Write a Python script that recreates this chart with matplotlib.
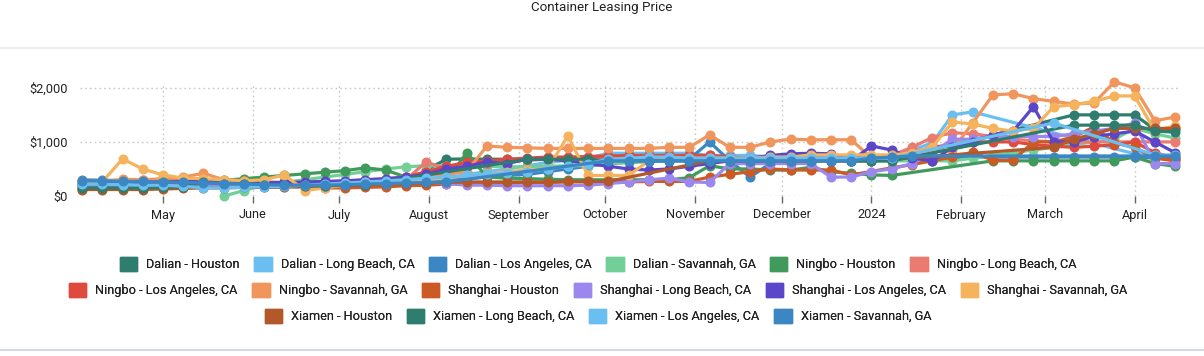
import matplotlib
matplotlib.use("Agg")
import matplotlib.pyplot as plt
from matplotlib.patches import Patch
from matplotlib.lines import Line2D
import numpy as np
import pandas as pd

plt.rcParams["font.family"] = ["Roboto", "DejaVu Sans"]

N = None

# weekly observations, 2023-04-03 .. 2024-04-15
dates = pd.date_range("2023-04-03", periods=55, freq="7D")

series_names = [
    "Dalian - Houston", "Dalian - Long Beach, CA", "Dalian - Los Angeles, CA",
    "Dalian - Savannah, GA", "Ningbo - Houston", "Ningbo - Long Beach, CA",
    "Ningbo - Los Angeles, CA", "Ningbo - Savannah, GA", "Shanghai - Houston",
    "Shanghai - Long Beach, CA", "Shanghai - Los Angeles, CA", "Shanghai - Savannah, GA",
    "Xiamen - Houston", "Xiamen - Long Beach, CA", "Xiamen - Los Angeles, CA",
    "Xiamen - Savannah, GA",
]

series_colors = [
    "#2f7d6f", "#6bbff0", "#3b87c4", "#72cf98", "#3f9a5b", "#e97b70",
    "#df4a3e", "#f0965c", "#cc5a24", "#9b88ef", "#5b46c9", "#f4b35c",
    "#b3582a", "#2f7d6f", "#6bbff0", "#3b87c4",
]

dalian_houston = [
    160, 160, 160, 160, 170, 180, 260, 240, 240, 220, 210,
    200, 200, 210, 220, 230, 200, 480, 680, 685, 680, 680,
    680, 680, 680, 680, 670, 670, 670, 670, 670, 670, 670,
    670, 670, 665, 665, 665, 665, 665, 665, N, N, N,
    N, N, N, N, N, 1500, 1500, 1500, 1500, 1230, 1230]
dalian_long_beach = [
    200, 200, 200, 200, 190, 170, 170, 170, 170, 160, 160,
    170, 180, 200, 220, 240, 260, 290, 320, 400, 450, 500,
    560, 620, 660, 700, 790, 790, 790, 790, 790, 750, 750,
    750, 720, 720, 720, 720, 720, 720, 720, 850, 980, 1500,
    1555, N, N, N, N, N, N, N, 780, 780, 700]
dalian_los_angeles = [
    300, 290, 290, 280, 280, 270, 250, 250, 240, 230, 220,
    210, 210, 220, 230, 240, 250, 260, 300, 320, 350, 380,
    400, 450, 500, 550, 600, 620, 640, 650, 680, 1000, 650,
    350, 600, 650, 650, 650, 650, 650, 650, N, N, N,
    720, 720, 720, 720, 720, 720, 720, 720, 720, 700, 690]
dalian_savannah = [
    N, N, N, N, N, N, N, 0, 100, 200, 250,
    300, 350, 400, 450, 500, 540, 560, 560, 550, 550, 540,
    540, 550, 560, 560, 600, 620, 640, 650, 650, 650, 650,
    650, 650, 650, 650, 650, 650, 650, 650, 650, 650, 650,
    700, 750, 800, 850, 900, 950, 1000, 1050, 1250, 1150, 1070]
ningbo_houston = [
    N, N, N, N, N, 230, 260, 290, 320, 350, 380,
    410, 440, 470, 520, 480, 350, 300, 280, 800, 350, 330,
    320, 310, 300, 300, 300, 300, 300, 300, 340, 560, 500,
    500, 480, 480, 530, 450, 420, 390, 380, N, N, N,
    N, 650, 650, 650, 650, 650, 650, 650, 720, 600, 550]
ningbo_long_beach = [
    280, 280, 280, 290, 290, 300, 310, 280, 260, 250, 240,
    230, 230, 240, 250, 270, 300, 630, 500, 550, 600, 650,
    660, 680, 700, 700, 700, 720, 720, 720, 720, 720, 700,
    700, 700, 700, 700, 700, 700, 700, 750, 900, 1080, 1170,
    1150, 1100, 1050, 1020, 1000, 1000, 1000, 1000, 1000, 1000, 1000]
ningbo_los_angeles = [
    250, 250, 240, 230, 230, 220, 200, 200, 200, 190, 180,
    180, 200, 220, 250, 300, 350, 450, 550, 620, 650, 680,
    700, 720, 720, 730, 740, 750, 750, 750, 750, 750, 720,
    700, 700, 700, 700, 700, 700, 700, 750, 800, 900, 950,
    1000, 1000, 1000, 950, 920, 900, 920, 950, 1000, 800, 700]
ningbo_savannah = [
    250, 260, 310, 300, 320, 350, 420, 300, 280, 260, 250,
    250, 260, 280, 300, 320, 350, 380, 400, 450, 925, 900,
    890, 880, 880, 880, 880, 880, 880, 900, 900, 1130, 900,
    900, 1000, 1050, 1040, 1040, 1040, 700, N, N, N, 850,
    1350, 1870, 1890, 1800, 1750, 1700, 1720, 2110, 2000, 1390, 1460]
shanghai_houston = [
    130, 130, 130, 140, 150, 160, 170, 180, 190, 200, 180,
    160, 150, 150, 160, 170, 190, 200, 220, 240, 240, 240,
    250, 250, 260, 260, 260, 260, 270, 270, 270, 350, 400,
    450, 500, 480, 480, 480, 390, N, 520, 580, 650, 720,
    810, 660, 660, 1000, 1000, 1090, 1280, 980, 900, 700, 650]
shanghai_long_beach = [
    200, 200, 200, 190, 190, 180, 200, 200, 200, 190, 190,
    200, 210, 220, 230, 240, 250, 260, 230, 200, 200, 190,
    190, 190, 190, 200, 230, 260, 300, 330, 260, 250, 600,
    600, 600, 600, 600, 350, 350, 450, 500, 600, 800, 1050,
    1050, 1100, 1100, 1100, 1100, 1150, 1200, 1250, 1350, 600, 600]
shanghai_los_angeles = [
    230, 230, 240, 250, 260, 270, 280, 270, 260, 250, 250,
    260, 270, 280, 300, 320, 350, 400, 500, 550, 630, 600,
    680, 680, 650, 600, 550, 500, 480, 500, 550, 600, 650,
    700, 750, 780, 790, 780, 650, 925, 850, 700, 650, 900,
    1000, 1130, 1200, 1650, 1000, 1000, 1100, 1150, 1200, 1000, 800]
shanghai_savannah = [
    250, 260, 685, 500, 390, 330, 320, 300, 280, 300, 390,
    100, 150, 200, 250, 250, 280, 300, 330, 380, 400, 450,
    480, 500, 1110, 380, 380, 380, 650, 680, 700, 700, 700,
    700, 720, 720, 760, 760, 760, 760, 760, 800, 900, 1370,
    1330, 1250, 1200, 1250, 1650, 1690, 1750, 1850, 1850, 1200, 1300]
xiamen_houston = [
    120, 120, 120, 120, 130, 140, 150, 150, 160, 160, 170,
    180, 190, 200, 210, 220, 230, 240, 250, 260, 260, 260,
    260, 260, 270, 270, 270, N, N, N, N, 650, 650,
    650, 650, 650, 650, 650, 650, 650, N, N, N, N,
    N, N, N, N, 900, 1050, 1150, 1250, 1250, 1250, 1250]
xiamen_long_beach = [
    150, 150, 150, 150, 160, 170, 250, 230, 230, 210, 200,
    190, 190, 200, 210, N, N, N, N, N, N, N,
    680, 680, 680, 680, 650, 650, 650, 650, 650, 650, 650,
    650, 650, 650, 650, 650, 650, 650, 650, N, N, N,
    N, N, N, N, N, 1310, 1310, 1310, 1310, 1200, 1180]
xiamen_los_angeles = [
    220, 220, 210, 200, 200, 180, 150, 150, 160, 170, 180,
    200, 220, 240, 260, 280, 300, 330, 350, 380, 400, 420,
    450, 500, 550, 600, 680, 700, 720, 720, 700, 700, 700,
    700, 700, 700, 700, 700, 700, 700, 700, N, N, N,
    N, N, N, N, 1350, N, N, N, N, 760, 760]
xiamen_savannah = [
    280, 280, 270, 270, 260, 250, 240, 230, 220, 210, 200,
    200, 200, 210, 220, 230, 240, 250, 260, N, N, N,
    N, N, N, N, 650, 650, 650, 650, 650, 650, 650,
    650, 650, 650, 650, 650, 650, 700, 720, 740, N, N,
    N, N, N, N, N, N, N, N, 740, 740, 740]

series_values = [
    dalian_houston, dalian_long_beach, dalian_los_angeles, dalian_savannah,
    ningbo_houston, ningbo_long_beach, ningbo_los_angeles, ningbo_savannah,
    shanghai_houston, shanghai_long_beach, shanghai_los_angeles, shanghai_savannah,
    xiamen_houston, xiamen_long_beach, xiamen_los_angeles, xiamen_savannah,
]

month_ticks = pd.to_datetime([
    "2023-05-01", "2023-06-01", "2023-07-01", "2023-08-01", "2023-09-01",
    "2023-10-01", "2023-11-01", "2023-12-01", "2024-01-01", "2024-02-01",
    "2024-03-01", "2024-04-01"])
month_labels = ["May", "June", "July", "August", "September", "October",
                "November", "December", "2024", "February", "March", "April"]
y_ticks = [0, 1000, 2000]
y_labels = ["$0", "$1,000", "$2,000"]

W, H = 1204, 356
fig = plt.figure(figsize=(W / 100, H / 100), dpi=100)
fig.patch.set_facecolor("white")

# plot area: x 80..1178 px, y 77..196 px ($0 at 196, $2,000 at 88)
ax = fig.add_axes([80 / W, 1 - 196 / H, 1098 / W, 119 / H])
ax.set_facecolor("none")

for vals, color in zip(series_values, series_colors):
    v = np.array([np.nan if x is None else x for x in vals], dtype=float)
    m = ~np.isnan(v)
    ax.plot(dates[m], v[m], color=color, lw=2.3, marker="o", ms=6.2,
            solid_capstyle="round", solid_joinstyle="round", clip_on=False, zorder=3)

x0 = pd.Timestamp("2023-04-03") - pd.Timedelta(days=0.7)
x1 = pd.Timestamp("2024-04-15") + pd.Timedelta(days=1)
ax.set_xlim(x0, x1)
ax.set_ylim(0, 2200)

# dotted grid
for yv in y_ticks:
    ax.axhline(yv, color="#c8c8c8", lw=1, ls=(0, (1.2, 2.2)), zorder=1)
ax.vlines(month_ticks, 0, 2050, color="#c8c8c8", lw=1, ls=(0, (1.2, 2.2)), zorder=1)

ax.set_xticks(month_ticks)
ax.set_xticklabels(month_labels, fontsize=9.2, color="#222222")
ax.set_yticks(y_ticks)
ax.set_yticklabels(y_labels, fontsize=9.2, color="#222222")
ax.tick_params(axis="x", length=5, width=1, color="#666666", pad=4)
ax.tick_params(axis="y", length=0, pad=9)
for s in ax.spines.values():
    s.set_visible(False)

fig.text(602 / W, 1 - 7 / H, "Container Leasing Price", ha="center", va="center",
         fontsize=9.6, color="#222222")

# separators
fig.add_artist(Line2D([0, 1], [1 - 48 / H, 1 - 48 / H], color="#eeeeee", lw=1.5,
                      transform=fig.transFigure))
fig.add_artist(Line2D([0, 1], [1 - 349.5 / H, 1 - 349.5 / H], color="#d3dbde", lw=1.5,
                      transform=fig.transFigure))

# legend: three centred rows
rows = [range(0, 6), range(6, 12), range(12, 16)]
row_y = [264, 290, 316]
for idx, yy in zip(rows, row_y):
    handles = [Patch(facecolor=series_colors[i], edgecolor=series_colors[i],
                     label=series_names[i]) for i in idx]
    leg = fig.legend(handles=handles, loc="center", bbox_to_anchor=(598 / W, 1 - yy / H),
                     ncol=len(handles), frameon=False, fontsize=9.2,
                     handlelength=1.35, handleheight=1.35, handletextpad=0.7,
                     columnspacing=1.15, borderpad=0, borderaxespad=0)
    for t in leg.get_texts():
        t.set_color("#222222")
    fig.add_artist(leg)

fig.savefig("out.png", dpi=100, facecolor="white")
